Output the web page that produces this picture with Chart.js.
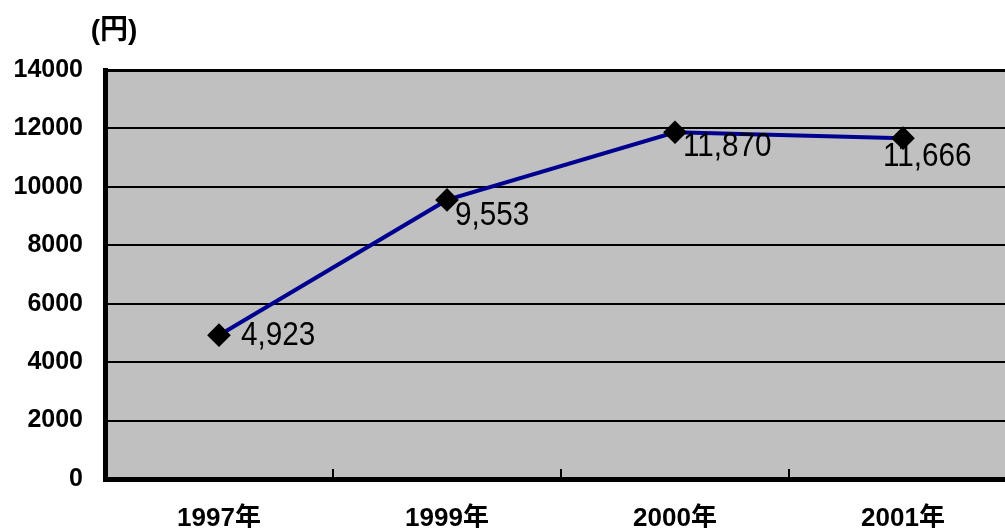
<!DOCTYPE html>
<html>
<head>
<meta charset="utf-8">
<script src="https://cdn.jsdelivr.net/npm/chart.js@4/dist/chart.umd.min.js"></script>
<style>
  html, body { margin: 0; padding: 0; background: #fff; overflow: hidden; }
  #wrap { position: absolute; left: 0; top: 0; width: 1030px; height: 528px; }
</style>
</head>
<body>
<div id="wrap"><canvas id="myChart" width="1030" height="528"></canvas></div>
<script>
const years = ["1997年", "1999年", "2000年", "2001年"];
const amounts = [4923, 9553, 11870, 11666];
const yTicks = [0, 2000, 4000, 6000, 8000, 10000, 12000, 14000];
const unitLabel = "(円)";

const FONT = "'Liberation Sans', Arial, 'Noto Sans CJK JP', sans-serif";

// where each value label sits relative to its marker
const labelOffsets = [[22, 1], [8, 16], [8, 15], [-20, 19]];

const extras = {
  id: "extras",
  afterDatasetsDraw(chart) {
    const ctx = chart.ctx;
    const x = chart.scales.x;
    const area = chart.chartArea;
    ctx.save();
    // small inside tick marks between categories
    ctx.strokeStyle = "#000";
    ctx.lineWidth = 2;
    for (let i = 0; i < years.length - 1; i++) {
      const px = (x.getPixelForValue(i) + x.getPixelForValue(i + 1)) / 2;
      ctx.beginPath();
      ctx.moveTo(px, area.bottom);
      ctx.lineTo(px, area.bottom - 10);
      ctx.stroke();
    }
    // value labels
    const meta = chart.getDatasetMeta(0);
    ctx.fillStyle = "#000";
    ctx.font = "33px " + FONT;
    ctx.textAlign = "left";
    ctx.textBaseline = "middle";
    meta.data.forEach((pt, i) => {
      const txt = amounts[i].toLocaleString("en-US");
      ctx.save();
      ctx.translate(pt.x + labelOffsets[i][0], pt.y + labelOffsets[i][1]);
      ctx.scale(0.9, 1);
      ctx.fillText(txt, 0, 0);
      ctx.restore();
    });
    // unit
    ctx.font = "bold 28px " + FONT;
    ctx.textAlign = "center";
    ctx.fillText(unitLabel, 114, 31);
    ctx.restore();
  }
};

const ctx = document.getElementById("myChart").getContext("2d");
new Chart(ctx, {
  type: "line",
  data: {
    labels: years,
    datasets: [{
      data: amounts,
      borderColor: "#000090",
      borderWidth: 4,
      pointStyle: "rectRot",
      pointRadius: 9,
      pointHoverRadius: 9,
      pointBackgroundColor: "#000",
      pointBorderColor: "#000",
      tension: 0
    }]
  },
  options: {
    responsive: false,
    animation: false,
    layout: { padding: { top: 70, right: 0, left: 0, bottom: 0 } },
    plugins: {
      legend: { display: false },
      tooltip: { enabled: false }
    },
    scales: {
      x: {
        offset: true,
        grid: { display: false, drawTicks: false },
        border: { color: "#000", width: 5 },
        ticks: {
          color: "#000",
          font: { family: FONT, size: 26, weight: "bold" },
          padding: 24,
          maxRotation: 0
        },
        afterFit(scale) { scale.height = 49; }
      },
      y: {
        min: 0,
        max: 14000,
        afterBuildTicks(scale) { scale.ticks = yTicks.map(v => ({ value: v })); },
        grid: {
          color: "#000",
          lineWidth: c => (c.tick && c.tick.value === 14000 ? 3 : 2),
          drawTicks: false
        },
        border: { color: "#000", width: 5 },
        ticks: {
          color: "#000",
          font: { family: FONT, size: 25, weight: "bold" },
          padding: 22,
          callback: v => String(v)
        },
        afterFit(scale) { scale.width = 105; }
      }
    }
  },
  plugins: [{
    id: "plotBg",
    beforeDraw(chart) {
      const a = chart.chartArea;
      chart.ctx.save();
      chart.ctx.fillStyle = "#c0c0c0";
      chart.ctx.fillRect(a.left, a.top, a.right - a.left, a.bottom - a.top);
      chart.ctx.restore();
    }
  }, extras]
});
</script>
</body>
</html>
